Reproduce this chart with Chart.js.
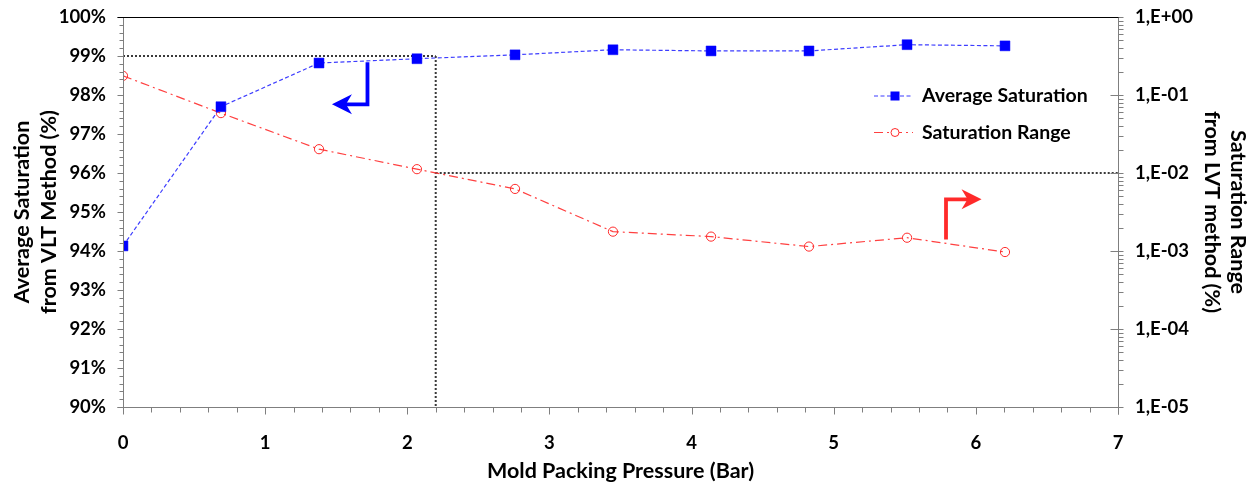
<!DOCTYPE html>
<html><head><meta charset="utf-8">
<script src="https://cdn.jsdelivr.net/npm/chart.js@4.4.1/dist/chart.umd.min.js"></script>
<style>html,body{margin:0;padding:0;background:#fff;overflow:hidden}#wrap{width:1256px;height:484px;position:relative}</style>
</head><body><div id="wrap"><canvas id="c"></canvas></div>
<script>
// ---- data ----
const pressureBar = [0, 0.689, 1.379, 2.068, 2.758, 3.447, 4.137, 4.826, 5.516, 6.205];
const avgSaturation = [94.13, 97.70, 98.82, 98.93, 99.03, 99.16, 99.13, 99.13, 99.29, 99.26];
const saturationRange = [0.176, 0.0586, 0.0202, 0.0112, 0.00625, 0.00177, 0.00153, 0.00114, 0.00148, 0.00097];
const seriesLabels = ['Average Saturation', 'Saturation Range'];
const xTickValues = [0, 1, 2, 3, 4, 5, 6, 7];
const leftTickValues = [90, 91, 92, 93, 94, 95, 96, 97, 98, 99, 100];
const rightTickValues = [1e-5, 1e-4, 1e-3, 1e-2, 1e-1, 1];
const rightTickLabels = ['1,E-05', '1,E-04', '1,E-03', '1,E-02', '1,E-01', '1,E+00'];
const xTitle = 'Mold Packing Pressure (Bar)';
const leftTitle = ['Average Saturation', 'from VLT Method (%)'];
const rightTitle = ['Saturation Range', 'from LVT method (%)'];
const thresholdPressure = [2.2];
const thresholdSaturation = [99];
const thresholdRange = [0.01];
const blueArrowPts = [1.72, 98.84, 97.76, 1.47];   // x, yTop, yBottom, tipX (left axis)
const redArrowPts = [5.79, 0.0014, 0.0046, 6.04];  // x, yBottom, yTop, tipX (right axis)

const BLUE = '#0000ff', RED = '#ff2a2a';
const FONT = 'Lato';

const refPlugin = {
  id: 'refs',
  beforeDatasetsDraw(chart) {
    const {ctx, scales: {x, y, y1}, chartArea: a} = chart;
    ctx.save();
    ctx.strokeStyle = '#3a3a3a';
    ctx.lineWidth = 2;
    ctx.setLineDash([2, 2]);
    const px = x.getPixelForValue(thresholdPressure[0]);
    const py = y.getPixelForValue(thresholdSaturation[0]);
    const pr = y1.getPixelForValue(thresholdRange[0]);
    ctx.beginPath();
    ctx.moveTo(a.left, py); ctx.lineTo(px, py);
    ctx.moveTo(px, py); ctx.lineTo(px, a.bottom);
    ctx.moveTo(px, pr); ctx.lineTo(a.right, pr);
    ctx.stroke();
    ctx.restore();
  },
  afterDraw(chart) {
    const {ctx, scales: {x, y, y1}, chartArea: a} = chart;
    ctx.save();
    // axes
    ctx.lineWidth = 1;
    ctx.strokeStyle = '#7f7f7f';
    const L = Math.round(a.left) + 0.5, R = Math.round(a.right) + 0.5;
    const T = Math.round(a.top) + 0.5, B = Math.round(a.bottom) + 0.5;
    ctx.beginPath();
    ctx.moveTo(L, T); ctx.lineTo(L, B);
    ctx.moveTo(L - 6, B); ctx.lineTo(R, B);
    ctx.moveTo(R, T); ctx.lineTo(R, B + 7);
    // left ticks
    for (let v = 90; v <= 100.001; v += 0.2) {
      const p = Math.round(y.getPixelForValue(v)) + 0.5;
      const major = Math.abs(v - Math.round(v)) < 1e-6;
      ctx.moveTo(L - (major ? 6 : 4), p); ctx.lineTo(L, p);
    }
    // x ticks
    for (let v = 0; v <= 7.001; v += 0.2) {
      const p = Math.round(x.getPixelForValue(v)) + 0.5;
      const major = Math.abs(v - Math.round(v)) < 1e-6;
      ctx.moveTo(p, B); ctx.lineTo(p, B + (major ? 7 : 5));
    }
    // right ticks
    for (let d = -5; d <= 0; d++) {
      for (let k = 1; k <= 9; k++) {
        const v = k * Math.pow(10, d);
        if (v > 1.0001) break;
        const p = Math.round(y1.getPixelForValue(v)) + 0.5;
        if (k === 1) { ctx.moveTo(R - 8, p); ctx.lineTo(R + 5, p); }
        else { ctx.moveTo(R, p); ctx.lineTo(R + 5, p); }
      }
    }
    ctx.stroke();
    // top border
    ctx.strokeStyle = '#000';
    ctx.beginPath(); ctx.moveTo(L - 6, T); ctx.lineTo(R, T); ctx.stroke();

    // arrows
    const drawArrow = (color, pts, yScale, dir) => {
      const ax = x.getPixelForValue(pts[0]);
      const ya = yScale.getPixelForValue(pts[1]);
      const yb = yScale.getPixelForValue(pts[2]);
      const tip = x.getPixelForValue(pts[3]);
      ctx.strokeStyle = color; ctx.fillStyle = color;
      ctx.lineWidth = 3.8; ctx.lineJoin = 'miter'; ctx.setLineDash([]);
      ctx.beginPath();
      ctx.moveTo(ax, ya); ctx.lineTo(ax, yb); ctx.lineTo(tip - dir * 12, yb);
      ctx.stroke();
      ctx.beginPath();
      ctx.moveTo(tip, yb);
      ctx.lineTo(tip - dir * 20, yb - 10);
      ctx.lineTo(tip - dir * 14, yb);
      ctx.lineTo(tip - dir * 20, yb + 10);
      ctx.closePath(); ctx.fill();
    };
    drawArrow(BLUE, blueArrowPts, y, -1);
    drawArrow(RED, redArrowPts, y1, 1);

    // legend
    const lx = a.right - 244, ly = a.top + 79, gap = 36.5;
    chart.data.datasets.forEach((ds, i) => {
      const cy = ly + i * gap;
      ctx.strokeStyle = ds.borderColor; ctx.lineWidth = ds.borderWidth;
      ctx.setLineDash(ds.borderDash);
      ctx.beginPath(); ctx.moveTo(lx, cy); ctx.lineTo(lx + 39, cy); ctx.stroke();
      ctx.setLineDash([]);
      const mx = lx + 21;
      if (ds.pointStyle === 'rect') {
        ctx.fillStyle = ds.pointBackgroundColor; ctx.fillRect(mx - 4.5, cy - 4.5, 9, 9);
      } else {
        ctx.fillStyle = '#fff'; ctx.strokeStyle = ds.pointBorderColor; ctx.lineWidth = 1;
        ctx.beginPath(); ctx.arc(mx, cy, 4, 0, Math.PI * 2); ctx.fill(); ctx.stroke();
      }
      ctx.fillStyle = '#000'; ctx.font = 'bold 19.5px ' + FONT;
      ctx.textAlign = 'left'; ctx.textBaseline = 'middle';
      ctx.fillText(ds.label, lx + 48, cy);
    });
    ctx.restore();
  }
};

const tickFont = {family: FONT, weight: 'bold', size: 18.5, lineHeight: 1.2};
const noVPad = s => { s.paddingTop = 0; s.paddingBottom = 0; };

new Chart(document.getElementById('c'), {
  type: 'line',
  data: {
    datasets: [
      {
        label: seriesLabels[0], yAxisID: 'y',
        data: pressureBar.map((p, i) => ({x: p, y: avgSaturation[i]})),
        borderColor: '#3d3dff', borderWidth: 1.2, borderDash: [4, 2.5],
        pointStyle: 'rect', pointRadius: 7, pointHoverRadius: 7,
        pointBackgroundColor: BLUE, pointBorderColor: BLUE, pointBorderWidth: 0.5,
        tension: 0, fill: false
      },
      {
        label: seriesLabels[1], yAxisID: 'y1',
        data: pressureBar.map((p, i) => ({x: p, y: saturationRange[i]})),
        borderColor: '#ff4040', borderWidth: 1.2, borderDash: [9, 4, 2, 4],
        pointStyle: 'circle', pointRadius: 4.6, pointHoverRadius: 4.6,
        pointBackgroundColor: 'rgba(255,255,255,0)', pointBorderColor: RED, pointBorderWidth: 1,
        tension: 0, fill: false
      }
    ]
  },
  options: {
    responsive: true, maintainAspectRatio: false, animation: false,
    layout: {padding: {top: 17, left: 0, right: 0, bottom: 0}},
    plugins: {legend: {display: false}, tooltip: {enabled: false}},
    scales: {
      x: {
        type: 'linear', position: 'bottom', min: 0, max: 7,
        afterBuildTicks: s => { s.ticks = xTickValues.map(v => ({value: v})); },
        afterFit: s => { s.height = 77; },
        grid: {display: false, drawTicks: false}, border: {display: false},
        ticks: {font: tickFont, color: '#000', padding: 25, maxRotation: 0, callback: v => String(v)},
        title: {display: true, text: xTitle, color: '#000',
          font: {family: FONT, weight: 'bold', size: 21.5, lineHeight: 1.0}, padding: {top: 0, bottom: 2}}
      },
      y: {
        type: 'linear', position: 'left', min: 90, max: 100,
        afterBuildTicks: s => { s.ticks = leftTickValues.map(v => ({value: v})); },
        afterFit: s => { s.width = 123; noVPad(s); },
        grid: {display: false, drawTicks: false}, border: {display: false},
        ticks: {font: tickFont, color: '#000', padding: 17, callback: v => v + '%'},
        title: {display: true, text: leftTitle, color: '#000',
          font: {family: FONT, weight: 'bold', size: 21.5, lineHeight: '27px'}, padding: {top: 9, bottom: 0}}
      },
      y1: {
        type: 'logarithmic', position: 'right', min: 1e-5, max: 1,
        afterBuildTicks: s => { s.ticks = rightTickValues.map(v => ({value: v})); },
        afterFit: s => { s.width = 138; noVPad(s); },
        grid: {display: false, drawTicks: false}, border: {display: false},
        ticks: {font: tickFont, color: '#000', padding: 17,
          callback: (v) => { const i = rightTickValues.findIndex(t => Math.abs(Math.log10(t) - Math.log10(v)) < 1e-6); return i >= 0 ? rightTickLabels[i] : ''; }},
        title: {display: true, text: rightTitle, color: '#000',
          font: {family: FONT, weight: 'bold', size: 21.5, lineHeight: '26px'}, padding: {top: 5, bottom: 0}}
      }
    }
  },
  plugins: [refPlugin]
});
</script></body></html>
